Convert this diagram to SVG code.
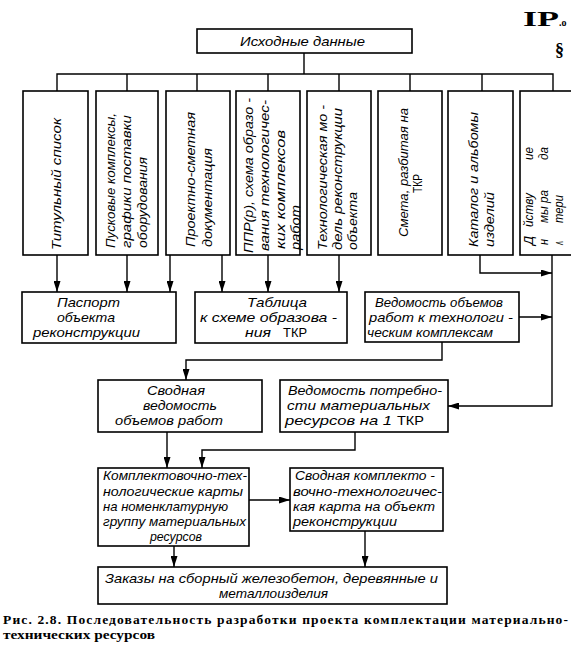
<svg xmlns="http://www.w3.org/2000/svg" width="571" height="651" viewBox="0 0 571 651">
<style>
.box{fill:#fff;stroke:#000;stroke-width:1.6}
.t{font-family:"Liberation Sans",Arial,sans-serif;font-style:italic;font-size:13px;fill:#000}
.u{font-family:"Liberation Sans",Arial,sans-serif;font-size:13px;fill:#000}
.ln{fill:none;stroke:#000;stroke-width:1.4}
.cap{font-family:"Liberation Serif","Times New Roman",serif;font-weight:bold;font-size:13.5px;fill:#000}
</style>
<defs>
<marker id="ar" markerUnits="userSpaceOnUse" markerWidth="11" markerHeight="7" refX="11" refY="3.5" orient="auto">
<path d="M0,0 L11,3.5 L0,7 z" fill="#000"/>
</marker>
</defs>
<rect width="571" height="651" fill="#fff"/>

<g id="connectors">
<path class="ln" d="M304,53 V74 M57,91 V74 H553 V91 M127,74 V91 M197,74 V91 M268,74 V91 M339,74 V91 M410,74 V91 M482,74 V91"/>
<path class="ln" marker-end="url(#ar)" d="M57,255 V292"/>
<path class="ln" marker-end="url(#ar)" d="M127,255 V292"/>
<path class="ln" marker-end="url(#ar)" d="M170,255 V292"/>
<path class="ln" marker-end="url(#ar)" d="M222,255 V292"/>
<path class="ln" marker-end="url(#ar)" d="M268,255 V292"/>
<path class="ln" marker-end="url(#ar)" d="M339,255 V292"/>
<path class="ln" marker-end="url(#ar)" d="M480,255 V273 H552"/>
<path class="ln" marker-end="url(#ar)" d="M552,255 V406 H448"/>
<path class="ln" marker-end="url(#ar)" d="M519,317 H552"/>
<path class="ln" marker-end="url(#ar)" d="M442,342 V360 H186 V380"/>
<path class="ln" marker-end="url(#ar)" d="M167,432 V468"/>
<path class="ln" marker-end="url(#ar)" d="M355,432 V450 H202 V468"/>
<path class="ln" marker-end="url(#ar)" d="M249,500 H290"/>
<path class="ln" marker-end="url(#ar)" d="M174,546 V567"/>
<path class="ln" marker-end="url(#ar)" d="M365,531 V567"/>
</g>

<g id="n-ishod">
<rect class="box" x="197" y="29" width="215" height="24"/>
<text class="t" x="240" y="46" textLength="125" lengthAdjust="spacingAndGlyphs">Исходные данные</text>
</g>

<g id="n-titul">
<rect class="box" x="23" y="91" width="65" height="164"/>
<text class="t" transform="translate(61,250) rotate(-90)" textLength="132" lengthAdjust="spacingAndGlyphs">Титульный список</text>
</g>

<g id="n-puskovye">
<rect class="box" x="96" y="91" width="62" height="164"/>
<text class="t" transform="translate(115,248) rotate(-90)" textLength="135" lengthAdjust="spacingAndGlyphs">Пусковые комплексы,</text>
<text class="t" transform="translate(131,248) rotate(-90)" textLength="133" lengthAdjust="spacingAndGlyphs">графики поставки</text>
<text class="t" transform="translate(147,248) rotate(-90)" textLength="91" lengthAdjust="spacingAndGlyphs">оборудования</text>
</g>

<g id="n-psd">
<rect class="box" x="166" y="91" width="64" height="164"/>
<text class="t" transform="translate(195,247) rotate(-90)" textLength="135" lengthAdjust="spacingAndGlyphs">Проектно-сметная</text>
<text class="t" transform="translate(212,247) rotate(-90)" textLength="99" lengthAdjust="spacingAndGlyphs">документация</text>
</g>

<g id="n-ppr">
<rect class="box" x="236" y="91" width="64" height="164"/>
<text class="t" transform="translate(253,253) rotate(-90)" textLength="155" lengthAdjust="spacingAndGlyphs">ППР(р), схема образо -</text>
<text class="t" transform="translate(269,251) rotate(-90)" textLength="151" lengthAdjust="spacingAndGlyphs">вания технологичес-</text>
<text class="t" transform="translate(285,249) rotate(-90)" textLength="119" lengthAdjust="spacingAndGlyphs">ких комплексов</text>
<text class="t" transform="translate(300,250) rotate(-90)" textLength="45" lengthAdjust="spacingAndGlyphs">работ</text>
</g>

<g id="n-model">
<rect class="box" x="307" y="91" width="64" height="164"/>
<text class="t" transform="translate(327,250) rotate(-90)" textLength="145" lengthAdjust="spacingAndGlyphs">Технологическая мо -</text>
<text class="t" transform="translate(342,250) rotate(-90)" textLength="142" lengthAdjust="spacingAndGlyphs">дель реконструкции</text>
<text class="t" transform="translate(357,250) rotate(-90)" textLength="58" lengthAdjust="spacingAndGlyphs">объекта</text>
</g>

<g id="n-smeta">
<rect class="box" x="378" y="91" width="64" height="164"/>
<text class="t" transform="translate(408,237) rotate(-90)" textLength="129" lengthAdjust="spacingAndGlyphs">Смета, разбитая на</text>
<text class="u" transform="translate(422,193) rotate(-90)" textLength="19" lengthAdjust="spacingAndGlyphs">ТКР</text>
</g>

<g id="n-katalog">
<rect class="box" x="448" y="91" width="65" height="164"/>
<text class="t" transform="translate(478,247) rotate(-90)" textLength="135" lengthAdjust="spacingAndGlyphs">Каталог и альбомы</text>
<text class="t" transform="translate(494,247) rotate(-90)" textLength="55" lengthAdjust="spacingAndGlyphs">изделий</text>
</g>

<g id="n-deyst">
<rect class="box" x="520" y="91" width="70" height="164"/>
<text class="t" transform="translate(533,245) rotate(-90)" textLength="9" lengthAdjust="spacingAndGlyphs">Д</text>
<text class="t" transform="translate(533,227) rotate(-90)" textLength="34" lengthAdjust="spacingAndGlyphs">йству</text>
<text class="t" transform="translate(533,160) rotate(-90)" textLength="13" lengthAdjust="spacingAndGlyphs">ие</text>
<text class="t" transform="translate(548,245) rotate(-90)" textLength="6" lengthAdjust="spacingAndGlyphs">н</text>
<text class="t" transform="translate(548,223) rotate(-90)" textLength="33" lengthAdjust="spacingAndGlyphs">мы ра</text>
<text class="t" transform="translate(548,160) rotate(-90)" textLength="13" lengthAdjust="spacingAndGlyphs">да</text>
<text class="t" transform="translate(563,245) rotate(-90)" textLength="4" lengthAdjust="spacingAndGlyphs">ʌ</text>
<text class="t" transform="translate(563,223) rotate(-90)" textLength="28" lengthAdjust="spacingAndGlyphs">тери</text>
</g>

<g id="n-pasport">
<rect class="box" x="22" y="292" width="154" height="51"/>
<text class="t" x="57" y="307" textLength="63" lengthAdjust="spacingAndGlyphs">Паспорт</text>
<text class="t" x="57" y="322" textLength="58" lengthAdjust="spacingAndGlyphs">объекта</text>
<text class="t" x="33" y="337" textLength="107" lengthAdjust="spacingAndGlyphs">реконструкции</text>
</g>

<g id="n-tablica">
<rect class="box" x="195" y="292" width="152" height="51"/>
<text class="t" x="247" y="307" textLength="60" lengthAdjust="spacingAndGlyphs">Таблица</text>
<text class="t" x="200" y="322" textLength="137" lengthAdjust="spacingAndGlyphs">к схеме образова -</text>
<text class="t" x="245" y="337" textLength="26" lengthAdjust="spacingAndGlyphs">ния</text>
<text class="u" x="283" y="337" textLength="24" lengthAdjust="spacingAndGlyphs">ТКР</text>
</g>

<g id="n-vedobj">
<rect class="box" x="365" y="292" width="154" height="50"/>
<text class="t" x="375" y="307" textLength="128" lengthAdjust="spacingAndGlyphs">Ведомость объемов</text>
<text class="t" x="369" y="322" textLength="144" lengthAdjust="spacingAndGlyphs">работ к технологи -</text>
<text class="t" x="367" y="337" textLength="126" lengthAdjust="spacingAndGlyphs">ческим комплексам</text>
</g>

<g id="n-svodved">
<rect class="box" x="98" y="380" width="164" height="52"/>
<text class="t" x="147" y="395" textLength="58" lengthAdjust="spacingAndGlyphs">Сводная</text>
<text class="t" x="143" y="410" textLength="74" lengthAdjust="spacingAndGlyphs">ведомость</text>
<text class="t" x="115" y="425" textLength="108" lengthAdjust="spacingAndGlyphs">объемов работ</text>
</g>

<g id="n-vedpotr">
<rect class="box" x="280" y="380" width="168" height="52"/>
<text class="t" x="288" y="395" textLength="154" lengthAdjust="spacingAndGlyphs">Ведомость потребно-</text>
<text class="t" x="287" y="410" textLength="143" lengthAdjust="spacingAndGlyphs">сти материальных</text>
<text class="t" x="285" y="425" textLength="107" lengthAdjust="spacingAndGlyphs">ресурсов на  1</text>
<text class="u" x="397" y="425" textLength="27" lengthAdjust="spacingAndGlyphs">ТКР</text>
</g>

<g id="n-kompl">
<rect class="box" x="98" y="468" width="151" height="78"/>
<text class="t" x="103" y="480" textLength="144" lengthAdjust="spacingAndGlyphs">Комплектовочно-тех-</text>
<text class="t" x="103" y="495.5" textLength="140" lengthAdjust="spacingAndGlyphs">нологические карты</text>
<text class="t" x="103" y="511" textLength="125" lengthAdjust="spacingAndGlyphs">на номенклатурную</text>
<text class="t" x="103" y="526" textLength="143" lengthAdjust="spacingAndGlyphs">группу материальных</text>
<text class="t" x="150" y="541" textLength="52" lengthAdjust="spacingAndGlyphs">ресурсов</text>
</g>

<g id="n-svodkompl">
<rect class="box" x="290" y="468" width="153" height="63"/>
<text class="t" x="295" y="480" textLength="140" lengthAdjust="spacingAndGlyphs">Сводная комплекто -</text>
<text class="t" x="293" y="495.5" textLength="149" lengthAdjust="spacingAndGlyphs">вочно-технологичес-</text>
<text class="t" x="293" y="511" textLength="142" lengthAdjust="spacingAndGlyphs">кая карта на объект</text>
<text class="t" x="293" y="526" textLength="104" lengthAdjust="spacingAndGlyphs">реконструкции</text>
</g>

<g id="n-zakazy">
<rect class="box" x="98" y="567" width="349" height="37"/>
<text class="t" x="105" y="583" textLength="333" lengthAdjust="spacingAndGlyphs">Заказы на сборный железобетон, деревянные и</text>
<text class="t" x="219" y="598" textLength="109" lengthAdjust="spacingAndGlyphs">металлоизделия</text>
</g>

<g id="marks">
<text class="cap" x="523" y="26" textLength="36" lengthAdjust="spacingAndGlyphs" style="font-size:22px">IP</text>
<text class="cap" x="559" y="26" style="font-size:10px">.o</text>
<text class="cap" x="555" y="56" style="font-size:18px">§</text>
</g>

<g id="caption">
<text class="cap" x="3" y="624" textLength="565" lengthAdjust="spacing">Рис. 2.8. Последовательность разработки проекта комплектации материально-</text>
<text class="cap" x="3" y="639" textLength="152" lengthAdjust="spacingAndGlyphs">технических ресурсов</text>
</g>
</svg>
